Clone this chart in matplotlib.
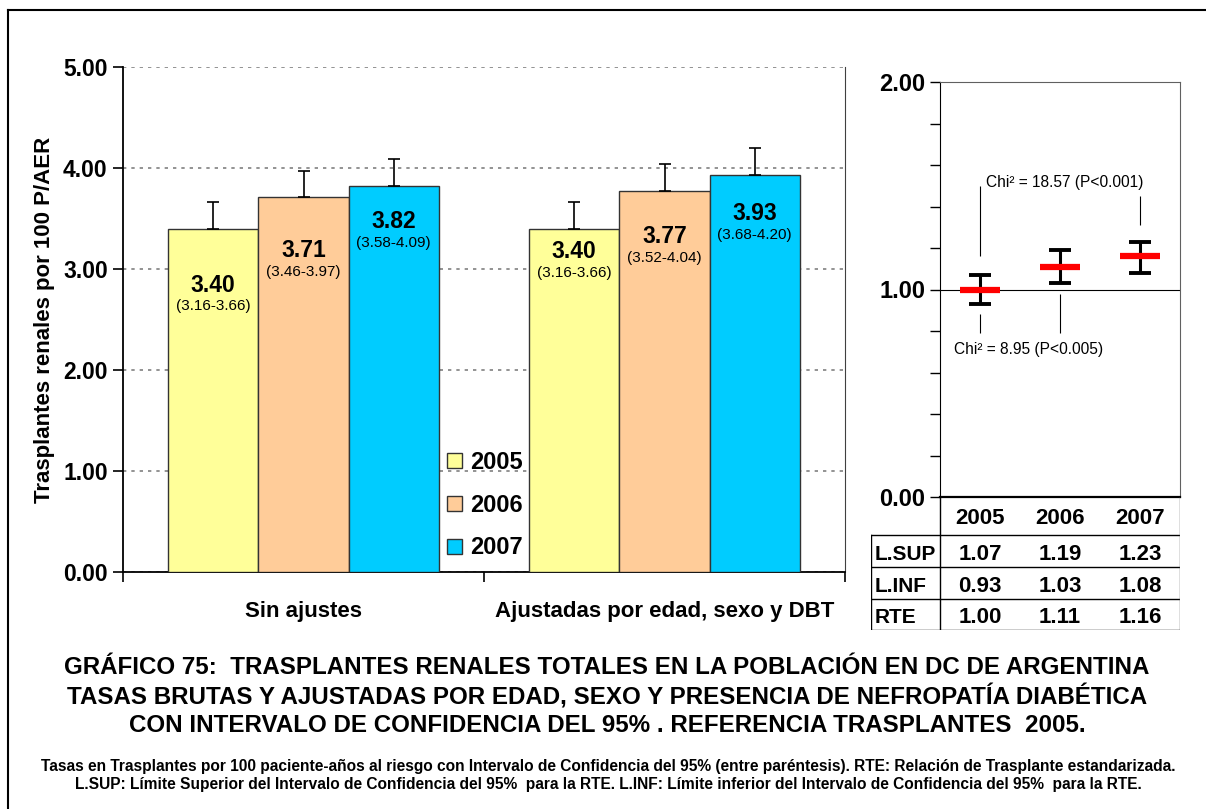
import matplotlib
matplotlib.use('Agg')
import matplotlib.pyplot as plt
from matplotlib.patches import Patch
from matplotlib.lines import Line2D
import numpy as np

plt.rcParams['font.family'] = ['Liberation Sans', 'DejaVu Sans']

# data
groups = ['Sin ajustes', 'Ajustadas por edad, sexo y DBT']
years = ['2005', '2006', '2007']
colors = ['#FFFF99', '#FFCC99', '#00CCFF']
rates = [[3.40, 3.71, 3.82], [3.40, 3.77, 3.93]]
ci_low = [[3.16, 3.46, 3.58], [3.16, 3.52, 3.68]]
ci_high = [[3.66, 3.97, 4.09], [3.66, 4.04, 4.20]]

rte = [1.00, 1.11, 1.16]
l_inf = [0.93, 1.03, 1.08]
l_sup = [1.07, 1.19, 1.23]
row_names = ['L.SUP', 'L.INF', 'RTE']

# where the value labels sit below the bar top (layout only)
label_drop = [[0.56, 0.53, 0.35], [0.23, 0.45, 0.38]]

W, H = 1206, 809
fig = plt.figure(figsize=(W / 100, H / 100), dpi=100)

def px_rect(x0, y0, x1, y1):
    return [x0 / W, 1 - y1 / H, (x1 - x0) / W, (y1 - y0) / H]

# outer frame
fig.add_artist(Line2D([8 / W, 8 / W], [0, 1 - 10 / H], color='black', lw=1.5, transform=fig.transFigure))
fig.add_artist(Line2D([8 / W, 1], [1 - 10 / H, 1 - 10 / H], color='black', lw=1.5, transform=fig.transFigure))

# ---- left bar chart ----
ax = fig.add_axes(px_rect(123, 67, 845, 572))
bw = 0.25
x = np.arange(len(groups))
for i, yr in enumerate(years):
    vals = [r[i] for r in rates]
    hi = [h[i] for h in ci_high]
    pos = x + (i - 1) * bw
    ax.bar(pos, vals, bw, color=colors[i], edgecolor='#333333', lw=1, label=yr, zorder=3)
    ax.errorbar(pos, vals, yerr=[np.zeros(len(vals)), np.array(hi) - np.array(vals)],
                fmt='none', ecolor='black', elinewidth=1.2, capsize=4, capthick=1.2, zorder=4)
    for g, (p, v, lo, h) in enumerate(zip(pos, vals, [c[i] for c in ci_low], hi)):
        yl = v - label_drop[g][i]
        ax.text(p, yl, f'{v:.2f}', ha='center', va='center', fontsize=16.5, fontweight='bold', zorder=5)
        ax.text(p, yl - 0.21, f'({lo:.2f}-{h:.2f})', ha='center', va='center', fontsize=11, zorder=5)

ax.set_xlim(-0.5, 1.5)
ax.set_ylim(0, 5)
ax.set_yticks(np.arange(0, 6))
ax.set_yticklabels([f'{v:.2f}' for v in np.arange(0, 6)], fontsize=16.5, fontweight='bold')
ax.yaxis.grid(True, linestyle=(0, (2, 3)), color='#808080', lw=1.2, zorder=0)
ax.set_xticks([-0.5, 0.5, 1.5])
ax.set_xticklabels([])
ax.set_xticks(x, minor=True)
ax.set_xticklabels(groups, minor=True, fontsize=16, fontweight='bold')
ax.tick_params(axis='x', which='minor', length=0, pad=21)
ax.tick_params(axis='x', which='major', length=7, width=1.2, direction='out')
ax.tick_params(axis='y', length=7, width=1.2, direction='out', pad=4)
ax.spines['top'].set_visible(False)
ax.spines['right'].set_color('#404040')
ax.spines['left'].set_linewidth(1.3)
ax.spines['bottom'].set_linewidth(1.3)
ax.set_ylabel('Trasplantes renales por 100 P/AER', fontsize=16, fontweight='bold', labelpad=6)

leg_handles = [Patch(facecolor=c, edgecolor='#333333', label=y) for c, y in zip(colors, years)]
ax.legend(handles=leg_handles, loc='lower left', bbox_to_anchor=(0.42, -0.017), frameon=False,
          prop={'size': 17, 'weight': 'bold'}, labelspacing=0.84, handlelength=0.6,
          handleheight=0.6, handletextpad=0.35)

# ---- right RTE chart ----
ax2 = fig.add_axes(px_rect(940, 82, 1180, 497))
xs = np.arange(1, len(years) + 1)
ax2.errorbar(xs, rte, yerr=[np.array(rte) - np.array(l_inf), np.array(l_sup) - np.array(rte)],
             fmt='none', ecolor='black', elinewidth=2.2, capsize=8, capthick=2.8, zorder=3)
ax2.hlines(rte, xs - 0.25, xs + 0.25, color='#FF0000', lw=4.5, zorder=4)
ax2.axhline(1.0, color='black', lw=0.8, zorder=1)
ax2.set_xlim(0.5, 3.5)
ax2.set_ylim(0, 2)
ax2.set_xticks([])
ax2.set_yticks([0, 1, 2])
ax2.set_yticklabels(['0.00', '1.00', '2.00'], fontsize=17, fontweight='bold')
ax2.set_yticks(np.arange(0, 2.01, 0.2), minor=True)
ax2.tick_params(axis='y', which='both', length=7, width=1, direction='out')
ax2.spines['top'].set_color('#606060')
ax2.spines['right'].set_color('#606060')
ax2.spines['bottom'].set_linewidth(1.6)

# chi-square annotations
ax2.vlines(1, 1.16, 1.50, color='black', lw=0.8)
ax2.vlines(3, 1.31, 1.45, color='black', lw=0.8)
ax2.text(1.08, 1.515, 'Chi² = 18.57 (P<0.001)', fontsize=11.2, va='center', ha='left')
ax2.vlines(1, 0.79, 0.88, color='black', lw=0.8)
ax2.vlines(2, 0.79, 0.98, color='black', lw=0.8)
ax2.text(0.68, 0.71, 'Chi² = 8.95 (P<0.005)', fontsize=11.2, va='center', ha='left')

# ---- table under RTE chart ----
axt = fig.add_axes(px_rect(871, 497, 1180, 630))
axt.set_xlim(0.5 - 69 / 80, 3.5)
axt.set_ylim(133, 0)
axt.axis('off')
x_left = 0.5 - 69 / 80
row_edges = [0, 38, 70, 102, 133]
for xi, yr in zip(xs, years):
    axt.text(xi, 22, yr, ha='center', va='center', fontsize=16, fontweight='bold')
for r, (name, vals) in enumerate(zip(row_names, [l_sup, l_inf, rte])):
    yc = (row_edges[r + 1] + row_edges[r + 2]) / 2 + 3
    axt.text(x_left + 0.05, yc, name, ha='left', va='center', fontsize=15, fontweight='bold')
    for xi, v in zip(xs, vals):
        axt.text(xi, yc, f'{v:.2f}', ha='center', va='center', fontsize=16, fontweight='bold')
for ye in row_edges[1:]:
    axt.plot([x_left, 3.5], [ye, ye], color='black', lw=1)
axt.plot([0.5, 0.5], [0, 133], color='black', lw=1)
axt.plot([3.5, 3.5], [0, 133], color='#606060', lw=1)
axt.plot([x_left, x_left], [38, 133], color='black', lw=1)

# ---- titles ----
title_lines = ['GRÁFICO 75:  TRASPLANTES RENALES TOTALES EN LA POBLACIÓN EN DC DE ARGENTINA',
               'TASAS BRUTAS Y AJUSTADAS POR EDAD, SEXO Y PRESENCIA DE NEFROPATÍA DIABÉTICA',
               'CON INTERVALO DE CONFIDENCIA DEL 95% . REFERENCIA TRASPLANTES  2005.']
for yy, t in zip([667, 697, 726], title_lines):
    fig.text(607 / W, 1 - yy / H, t, ha='center', va='center', fontsize=17.4, fontweight='bold')

note_lines = ['Tasas en Trasplantes por 100 paciente-años al riesgo con Intervalo de Confidencia del 95% (entre paréntesis). RTE: Relación de Trasplante estandarizada.',
              'L.SUP: Límite Superior del Intervalo de Confidencia del 95%  para la RTE. L.INF: Límite inferior del Intervalo de Confidencia del 95%  para la RTE.']
for yy, t in zip([766, 784], note_lines):
    fig.text(608 / W, 1 - yy / H, t, ha='center', va='center', fontsize=11.2, fontweight='bold')

fig.savefig('out.png', dpi=100)
